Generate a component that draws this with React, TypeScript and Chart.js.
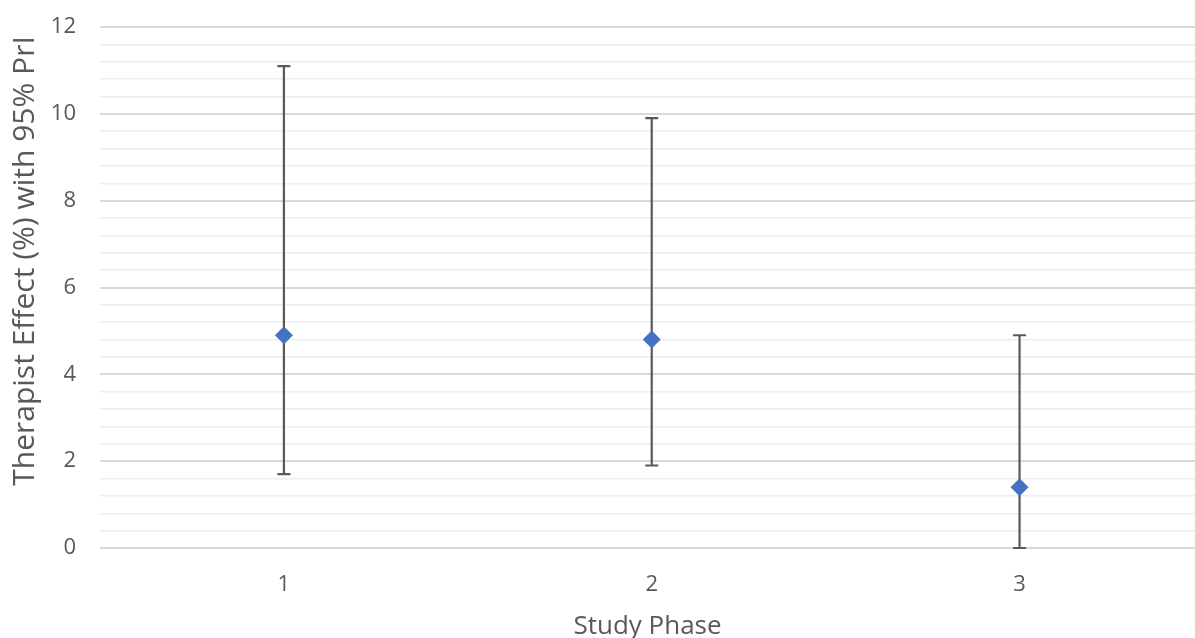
import React, { useEffect, useRef } from "react";
import { Chart, registerables } from "chart.js";

Chart.register(...registerables);

const phases = [1, 2, 3];
const effects = [4.9, 4.8, 1.4];
const lowerBounds = [1.7, 1.9, 0.0];
const upperBounds = [11.1, 9.9, 4.9];
const yTitle = "Therapist Effect (%) with 95% PrI";
const xTitle = "Study Phase";

const FONT = "'Open Sans', 'Noto Sans', sans-serif";
const TEXT = "#595959";

const errorBarPlugin = {
  id: "errorBars",
  beforeDatasetsDraw(chart: any) {
    const { ctx, scales } = chart;
    const xs = scales.x;
    const ys = scales.y;
    ctx.save();
    ctx.strokeStyle = "#595959";
    ctx.lineWidth = 2.2;
    const cap = 6.5;
    phases.forEach((p, i) => {
      const x = xs.getPixelForValue(p);
      const yl = ys.getPixelForValue(lowerBounds[i]);
      const yu = ys.getPixelForValue(upperBounds[i]);
      ctx.beginPath();
      ctx.moveTo(x, yl);
      ctx.lineTo(x, yu);
      ctx.moveTo(x - cap, yl);
      ctx.lineTo(x + cap, yl);
      ctx.moveTo(x - cap, yu);
      ctx.lineTo(x + cap, yu);
      ctx.stroke();
    });
    ctx.restore();
  },
};

const yTitlePlugin = {
  id: "yTitle",
  afterDraw(chart: any) {
    const { ctx } = chart;
    ctx.save();
    ctx.translate(25, 261);
    ctx.rotate(-Math.PI / 2);
    ctx.fillStyle = TEXT;
    ctx.font = `30px ${FONT}`;
    ctx.textAlign = "center";
    ctx.textBaseline = "middle";
    ctx.fillText(yTitle, 0, 0);
    ctx.restore();
  },
};

const isMajor = (v: number) => Math.abs(v / 2 - Math.round(v / 2)) < 1e-6;

export default function App() {
  const ref = useRef<HTMLCanvasElement | null>(null);
  useEffect(() => {
    if (!ref.current) return;
    const chart = new Chart(ref.current, {
      type: "scatter",
      data: {
        datasets: [
          {
            data: phases.map((p, i) => ({ x: p, y: effects[i] })),
            pointStyle: "rectRot",
            pointRadius: 9,
            pointHoverRadius: 9,
            backgroundColor: "#4472C4",
            borderColor: "#4472C4",
            borderWidth: 0,
            clip: false,
          },
        ],
      },
      options: {
        animation: false,
        responsive: true,
        maintainAspectRatio: false,
        layout: { autoPadding: false, padding: { top: 27, right: 0, left: 0, bottom: 0 } },
        plugins: { legend: { display: false }, tooltip: { enabled: false } },
        scales: {
          x: {
            type: "linear",
            min: 0.5,
            max: 3.477,
            afterBuildTicks: (scale: any) => {
              scale.ticks = phases.map((p) => ({ value: p }));
            },
            afterFit: (scale: any) => {
              scale.height = 90;
              scale.paddingLeft = 0;
              scale.paddingRight = 0;
            },
            grid: { display: false, drawTicks: false },
            border: { display: false },
            ticks: {
              color: TEXT,
              font: { family: FONT, size: 22 },
              padding: 24,
              maxRotation: 0,
              callback: (v: any) => String(v),
            },
            title: {
              display: true,
              text: xTitle,
              color: TEXT,
              font: { family: FONT, size: 26 },
              padding: { top: 7, bottom: -4 },
            },
          },
          y: {
            min: 0,
            max: 12,
            ticks: {
              stepSize: 0.4,
              color: TEXT,
              font: { family: FONT, size: 22 },
              padding: 24,
              autoSkip: false,
              callback: (v: any) => (isMajor(Number(v)) ? String(Math.round(Number(v))) : ""),
            },
            afterFit: (scale: any) => {
              scale.width = 100;
              scale.paddingTop = 0;
              scale.paddingBottom = 0;
            },
            grid: {
              drawTicks: false,
              color: (c: any) => (isMajor(c.tick.value) ? "#d9d9d9" : "#ededed"),
              lineWidth: (c: any) => (isMajor(c.tick.value) ? 2 : 1.5),
            },
            border: { display: false },
            title: { display: false },
          },
        },
      },
      plugins: [errorBarPlugin, yTitlePlugin],
    } as any);
    return () => chart.destroy();
  }, []);
  return (
    <div style={{ position: "fixed", left: 0, top: 0, width: 1195, height: 638, background: "#fff" }}>
      <canvas ref={ref} />
    </div>
  );
}
